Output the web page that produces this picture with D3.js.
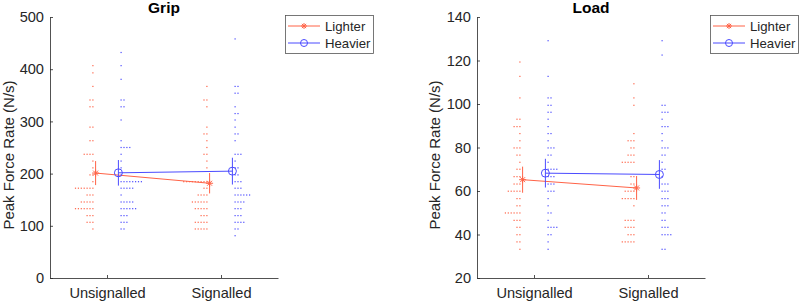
<!DOCTYPE html>
<html>
<head>
<meta charset="utf-8">
<script src="https://cdn.jsdelivr.net/npm/d3@7"></script>
<style>
  body { margin: 0; background: #fff; }
  svg { display: block; font-family: "Liberation Sans", Arial, Helvetica, sans-serif; }
</style>
</head>
<body>
<svg id="chart" width="800" height="304"></svg>
<script>
const categories = ['Unsignalled', 'Signalled']
const seriesNames = ['Lighter', 'Heavier']

// binned dots: [value, count]
const gripLighterUnsig = [[406.8,1],[393,1],[367,1],[341,2],[328,2],[289,2],[263,2],[237,4],[224,1],[211,1],[197.5,2],[184.5,1],[172,7],[159,3],[145.6,5],[132.8,7],[119.5,3],[106.7,3],[93.9,1]]
const gripHeavierUnsig = [[432,1],[406.8,1],[380.6,1],[341,2],[328,2],[302.7,1],[263,1],[250,4],[237,1],[224,1],[211,1],[197.5,1],[184.5,8],[172,5],[159,1],[145.6,5],[132.8,6],[119.5,3],[106.7,3],[93.9,2]]
const gripLighterSig = [[367,1],[341,2],[328,1],[289,1],[276,2],[263,1],[250,1],[237,2],[224,1],[211,1],[184.5,9],[172,2],[159,4],[145.6,6],[132.8,5],[119.5,3],[106.7,5],[93.9,5]]
const gripHeavierSig = [[458,1],[367,2],[354,2],[328,1],[315,2],[302.7,1],[289,1],[276,2],[263,1],[237,3],[224,1],[211,2],[197.5,2],[184.5,3],[172,3],[159,6],[145.6,4],[132.8,3],[119.5,3],[106.7,4],[93.9,2],[81,1]]

const loadLighterUnsig = [[119.3,1],[112.7,1],[102.8,1],[93,2],[89.6,3],[86.4,1],[83.1,1],[79.8,3],[76.5,2],[73.2,1],[70,2],[66.6,3],[63.2,3],[59.9,5],[56.5,2],[53.2,2],[49.9,6],[46.5,3],[43.3,2],[39.9,2],[36.6,2],[33.2,1]]
const loadHeavierUnsig = [[129.1,1],[112.7,1],[102.8,2],[99.4,2],[96.2,2],[93,1],[89.6,1],[86.4,2],[83.1,1],[79.8,3],[76.5,2],[73.2,1],[70,4],[66.6,3],[63.2,3],[59.9,3],[56.5,1],[53.2,1],[49.9,2],[46.5,1],[43.3,4],[39.9,2],[36.6,1],[33.2,1]]
const loadLighterSig = [[109.3,1],[102.8,1],[99.4,1],[86.4,1],[83.1,3],[79.8,2],[76.5,3],[73.2,5],[66.6,2],[63.2,2],[59.9,4],[56.5,5],[53.2,1],[46.5,4],[43.3,4],[39.9,3],[36.6,5]]
const loadHeavierSig = [[129.1,1],[122.5,1],[99.4,2],[96.2,3],[93,1],[89.6,3],[86.4,1],[83.1,1],[79.8,3],[76.5,2],[73.2,1],[70,2],[66.6,1],[63.2,3],[59.9,3],[56.5,3],[53.2,3],[49.9,2],[46.5,2],[43.3,3],[39.9,4],[33.2,2]]

// means and half-widths of the error bars, per category
const gripLighterMean = [201, 181.5]
const gripLighterErr = [23, 19.5]
const gripHeavierMean = [201.5, 204.7]
const gripHeavierErr = [24.5, 25.7]
const loadLighterMean = [65.2, 61.4]
const loadLighterErr = [6, 5.5]
const loadHeavierMean = [68.2, 67.6]
const loadHeavierErr = [6.6, 6.6]

const gripTicks = [0, 100, 200, 300, 400, 500]
const loadTicks = [20, 40, 60, 80, 100, 120, 140]

const red = '#ff6347'
const blue = '#4b4bff'
const axisColor = '#262626'

const svg = d3.select('#chart')

function asterisk(g, cx, cy, r, color){
	const d = r * 0.7071
	const p = `M${cx-r},${cy}L${cx+r},${cy}M${cx},${cy-r}L${cx},${cy+r}M${cx-d},${cy-d}L${cx+d},${cy+d}M${cx-d},${cy+d}L${cx+d},${cy-d}`
	g.append('path').attr('d', p).attr('stroke', color).attr('stroke-width', 1).attr('fill', 'none')
}

function drawPanel(cfg){
	const margin = cfg.margin
	const g = svg.append('g')

	const x = d3.scaleLinear().domain([0.5, 2.5]).range([margin.left, margin.right])
	const y = d3.scaleLinear().domain(cfg.yDomain).range([278, 17])
	const off = 0.1
	const step = 2.9

	// dots
	const groups = [
		{rows: cfg.lighter[0], cx: x(1 - off), side: -1, color: red},
		{rows: cfg.heavier[0], cx: x(1 + off), side: 1, color: blue},
		{rows: cfg.lighter[1], cx: x(2 - off), side: -1, color: red},
		{rows: cfg.heavier[1], cx: x(2 + off), side: 1, color: blue}
	]
	groups.forEach(grp => {
		const pts = []
		grp.rows.forEach(([v, n]) => {
			for(let i = 0; i < n; i++) pts.push({v, i})
		})
		g.append('g').attr('fill', grp.color)
			.selectAll('rect')
			.data(pts)
			.join('rect')
				.attr('x', d => grp.cx + grp.side * (2.7 + d.i * step) - 0.6)
				.attr('y', d => y(d.v) - 0.6)
				.attr('width', 1.2)
				.attr('height', 1.2)
	})

	// mean lines, error bars, markers
	const lines = [
		{mean: cfg.lighterMean, err: cfg.lighterErr, off: -off, color: red, kind: 'star'},
		{mean: cfg.heavierMean, err: cfg.heavierErr, off: off, color: blue, kind: 'circle'}
	]
	lines.forEach(s => {
		const pts = s.mean.map((m, i) => [x(i + 1 + s.off), y(m)])
		g.append('path')
			.attr('d', d3.line()(pts))
			.attr('stroke', s.color).attr('fill', 'none').attr('stroke-width', 1)
		s.mean.forEach((m, i) => {
			g.append('line')
				.attr('x1', x(i + 1 + s.off)).attr('x2', x(i + 1 + s.off))
				.attr('y1', y(m - s.err[i])).attr('y2', y(m + s.err[i]))
				.attr('stroke', s.color).attr('stroke-width', 1)
			if(s.kind === 'star') asterisk(g, x(i + 1 + s.off), y(m), 3.5, s.color)
			else g.append('circle').attr('cx', x(i + 1 + s.off)).attr('cy', y(m)).attr('r', 4)
				.attr('fill', 'none').attr('stroke', s.color).attr('stroke-width', 1)
		})
	})

	// axes
	const xAxis = g.append('g')
		.attr('transform', 'translate(0,278)')
		.call(d3.axisBottom(x).tickValues([1, 2]).tickFormat((d, i) => categories[i])
			.tickSizeInner(-3).tickSizeOuter(0).tickPadding(10))
	const yAxis = g.append('g')
		.attr('transform', `translate(${margin.left},0)`)
		.call(d3.axisLeft(y).tickValues(cfg.ticks).tickSizeInner(-3).tickSizeOuter(0).tickPadding(6))
	;[xAxis, yAxis].forEach(a => {
		a.select('.domain').attr('stroke', axisColor).attr('stroke-width', 0.8)
		a.selectAll('.tick line').attr('stroke', axisColor).attr('stroke-width', 0.8)
		a.selectAll('.tick text').attr('fill', axisColor).style('font-size', '14.6px')
		a.attr('font-family', null)
	})

	g.append('text')
		.attr('transform', `translate(${cfg.ylabelX},155) rotate(-90)`)
		.attr('text-anchor', 'middle')
		.attr('fill', axisColor)
		.style('font-size', '15px')
		.text('Peak Force Rate (N/s)')

	g.append('text')
		.attr('x', (margin.left + margin.right) / 2).attr('y', 13)
		.attr('text-anchor', 'middle')
		.attr('font-weight', 'bold')
		.style('font-size', '15.5px')
		.text(cfg.title)

	// legend
	const lg = g.append('g').attr('transform', `translate(${cfg.legendX},15)`)
	lg.append('rect').attr('x', 0.5).attr('y', 0.5).attr('width', 88).attr('height', 38)
		.attr('fill', '#fff').attr('stroke', '#555').attr('stroke-width', 0.8)
	seriesNames.forEach((name, i) => {
		const ly = 11 + i * 17
		const color = i === 0 ? red : blue
		lg.append('line').attr('x1', 3).attr('x2', 35).attr('y1', ly).attr('y2', ly)
			.attr('stroke', color).attr('stroke-width', 1)
		if(i === 0) asterisk(lg, 19, ly, 3, color)
		else lg.append('circle').attr('cx', 19).attr('cy', ly).attr('r', 3.5)
			.attr('fill', 'none').attr('stroke', color)
		lg.append('text').attr('x', 40).attr('y', ly + 5)
			.attr('fill', axisColor)
			.style('font-size', '13.2px')
			.text(name)
	})
}

drawPanel({
	title: 'Grip',
	margin: {left: 50, right: 278},
	yDomain: [0, 500],
	ticks: gripTicks,
	lighter: [gripLighterUnsig, gripLighterSig],
	heavier: [gripHeavierUnsig, gripHeavierSig],
	lighterMean: gripLighterMean, lighterErr: gripLighterErr,
	heavierMean: gripHeavierMean, heavierErr: gripHeavierErr,
	ylabelX: 14,
	legendX: 285
})

drawPanel({
	title: 'Load',
	margin: {left: 477, right: 705},
	yDomain: [20, 140],
	ticks: loadTicks,
	lighter: [loadLighterUnsig, loadLighterSig],
	heavier: [loadHeavierUnsig, loadHeavierSig],
	lighterMean: loadLighterMean, lighterErr: loadLighterErr,
	heavierMean: loadHeavierMean, heavierErr: loadHeavierErr,
	ylabelX: 440,
	legendX: 710
})
</script>
</body>
</html>
